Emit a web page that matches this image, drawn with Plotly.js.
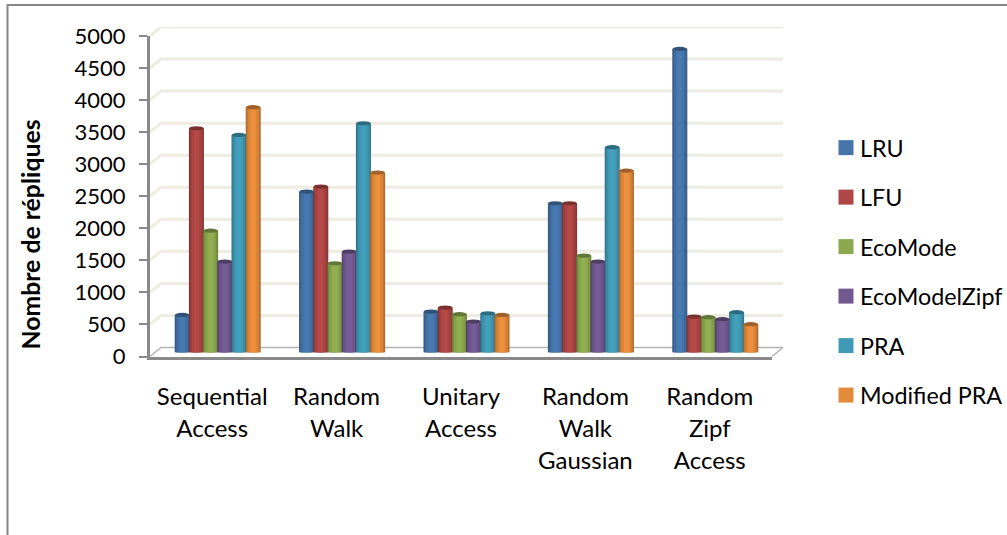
<!DOCTYPE html>
<html>
<head>
<meta charset="utf-8">
<script src="https://cdn.plot.ly/plotly-3.0.1.min.js"></script>
<style>html,body{margin:0;padding:0;background:#fff;overflow:hidden}</style>
</head>
<body>
<div id="chart" style="width:1007px;height:535px"></div>
<script>
// Replica counts per access pattern and replication strategy
const categories = ['Sequential<br>Access', 'Random<br>Walk', 'Unitary<br>Access', 'Random<br>Walk<br>Gaussian', 'Random<br>Zipf<br>Access'];
const seriesNames = ['LRU', 'LFU', 'EcoMode', 'EcoModelZipf', 'PRA', 'Modified PRA'];
const lru = [585, 2509, 637, 2327, 4735];
const lfu = [3497, 2587, 699, 2327, 559];
const ecoMode = [1900, 1391, 596, 1511, 549];
const ecoModelZipf = [1417, 1573, 481, 1417, 518];
const pra = [3393, 3575, 611, 3201, 627];
const modifiedPra = [3825, 2805, 585, 2836, 440];
const seriesValues = [lru, lfu, ecoMode, ecoModelZipf, pra, modifiedPra];
const seriesColors = ['#4575ab', '#ad4645', '#8ba84e', '#71588f', '#409ab6', '#e38a3b'];
const yTicks = [0, 500, 1000, 1500, 2000, 2500, 3000, 3500, 4000, 4500, 5000];

// Page geometry, in pixels
const W = 1007, H = 535;
const front = {left: 150, right: 772, y0: 356.5, yTop: 36};
const depthX = 11, depthY = 9;            // full depth of the 3D box
const unitPx = (front.right - front.left) / 5;
const valuePx = (front.y0 - front.yTop) / 5000;
const barPitch = 14.2;
const fx = p => p / W, fy = p => 1 - p / H;

function shade(hex, k) {
  const n = parseInt(hex.slice(1), 16);
  const c = [n >> 16, (n >> 8) & 255, n & 255].map(v => Math.round(Math.min(255, v * k)));
  return `rgb(${c[0]},${c[1]},${c[2]})`;
}

const traces = [];

// Back wall: gridlines with their short returns towards the front axis
const gx = [], gy = [];
yTicks.slice(1).forEach(v => {
  gx.push(-depthX / unitPx, 0, 5, null);
  gy.push(v - depthY / valuePx, v, v, null);
});
traces.push({type: 'scatter', mode: 'lines', x: gx, y: gy, xaxis: 'x', yaxis: 'y',
  line: {color: '#eeece1', width: 3}, hoverinfo: 'skip', showlegend: false});
const floorX = [-depthX / unitPx, 0, 5, 5 - depthX / unitPx];
const floorY = [-depthY / valuePx, 0, 0, -depthY / valuePx];
traces.push({type: 'scatter', mode: 'lines', x: floorX, y: floorY, xaxis: 'x', yaxis: 'y',
  line: {color: '#b5b5b5', width: 1.5}, hoverinfo: 'skip', showlegend: false});

// Cylinders: nested bars of narrowing width give the rounded shading
const layers = [[15, 0.72], [13.6, 0.84], [11.6, 0.92], [8.6, 0.98], [5, 1.04]];
const shapes = [];
seriesNames.forEach((name, s) => {
  const xs = categories.map((_, i) => i + 0.5 + (s - 2.5) * barPitch / unitPx);
  layers.forEach(([w, k]) => {
    traces.push({type: 'bar', x: xs, y: seriesValues[s], width: w / unitPx, xaxis: 'x2', yaxis: 'y2',
      marker: {color: shade(seriesColors[s], k), line: {width: 0}},
      name, showlegend: false, hovertemplate: name + ': %{y}<extra></extra>'});
  });
  seriesValues[s].forEach((v, i) => {
    shapes.push({type: 'circle', xref: 'x2', yref: 'y2', layer: 'above',
      x0: xs[i] - 7.3 / unitPx, x1: xs[i] + 7.3 / unitPx,
      y0: v - 2 / valuePx, y1: v + 2.2 / valuePx,
      fillcolor: shade(seriesColors[s], 0.7), line: {width: 0}});
  });
});

// Legend entries with square swatches
seriesNames.forEach((name, s) => {
  traces.push({type: 'scatter', mode: 'markers', x: [null], y: [null], xaxis: 'x2', yaxis: 'y2',
    name, legendgroup: name, marker: {symbol: 'square', size: 15, color: seriesColors[s]}});
});

// Front axes carry the ticks and labels; this one only holds the category text
traces.push({type: 'scatter', mode: 'markers', x: [0.5], y: [0], xaxis: 'x3', yaxis: 'y3',
  marker: {opacity: 0}, hoverinfo: 'skip', showlegend: false});
// Carrier of the value-axis title, which sits lower than the axis middle
traces.push({type: 'scatter', mode: 'markers', x: [null], y: [null], xaxis: 'x4', yaxis: 'y4',
  hoverinfo: 'skip', showlegend: false});

// Outer frame of the figure
shapes.push({type: 'line', xref: 'paper', yref: 'paper', x0: fx(7.5), x1: 1, y0: fy(5), y1: fy(5), line: {color: '#868686', width: 2}});
shapes.push({type: 'line', xref: 'paper', yref: 'paper', x0: fx(7.5), x1: fx(7.5), y0: fy(4), y1: 0, line: {color: '#868686', width: 2}});

const textFont = 'Lato, "Open Sans", sans-serif';
const hidden = {showgrid: false, zeroline: false, showline: false, showticklabels: false, ticks: ''};

const layout = {
  width: W, height: H,
  margin: {l: 0, r: 0, t: 0, b: 0, pad: 0, autoexpand: false},
  paper_bgcolor: '#ffffff', plot_bgcolor: 'rgba(0,0,0,0)',
  barmode: 'overlay', shapes,
  font: {family: textFont, color: '#000'},
  // back wall
  xaxis: {...hidden, domain: [fx(front.left), fx(front.right + depthX)], range: [-depthX / unitPx, 5]},
  yaxis: {...hidden, domain: [fy(front.y0), fy(front.yTop - depthY)], range: [-depthY / valuePx, 5000]},
  // plane of the cylinders
  xaxis2: {...hidden, domain: [fx(front.left + 5.5), fx(front.right + 5.5)], range: [0, 5]},
  yaxis2: {...hidden, domain: [fy(front.y0 - 4), fy(front.yTop - 4)], range: [0, 5000]},
  // front axes
  xaxis3: {domain: [fx(front.left), fx(front.right)], range: [0, 5], anchor: 'y3',
    showgrid: false, zeroline: false, showline: true, linecolor: '#898989', linewidth: 3,
    ticks: 'outside', ticklen: 0, tickcolor: 'rgba(0,0,0,0)', tickmode: 'array',
    tickvals: categories.map((_, i) => i + 0.5),
    ticktext: categories.map(c => c.split('<br>').map(l => `<span style="font-size:24px">${l}</span>`).join('<br>')),
    tickfont: {family: textFont, size: 24.6, color: '#000'}, tickangle: 0, ticklabelstandoff: 16},
  yaxis3: {domain: [fy(front.y0), fy(front.yTop)], range: [0, 5000], anchor: 'x3',
    tickmode: 'array', tickvals: yTicks,
    showgrid: false, zeroline: false, showline: true, linecolor: '#898989', linewidth: 3,
    ticks: 'outside', ticklen: 8, tickwidth: 2, tickcolor: '#898989',
    tickfont: {family: textFont, size: 22, color: '#000'}, ticklabelstandoff: 9},
  // title holder, placed left of the tick labels
  xaxis4: {...hidden, domain: [fx(51), fx(61)], range: [0, 1], anchor: 'y4'},
  yaxis4: {...hidden, domain: [fy(356), fy(113)], anchor: 'x4', range: [0, 1], automargin: true,
    title: {text: 'Nombre de répliques', standoff: 2, font: {family: textFont, size: 24.8, weight: 'bold', color: '#000'}}},
  legend: {x: fx(820), xanchor: 'left', y: fy(126), yanchor: 'top', traceorder: 'grouped',
    tracegroupgap: 16.2, borderwidth: 0, bgcolor: 'rgba(0,0,0,0)',
    font: {family: textFont, size: 23.3, color: '#000'}}
};

Plotly.newPlot('chart', traces, layout, {displayModeBar: false, responsive: false}).then(gd => {
  // Bring the swatches closer to their labels
  gd.querySelectorAll('.legend .legendsymbols').forEach(g => g.setAttribute('transform', 'translate(6,0)'));
});
</script>
</body>
</html>
